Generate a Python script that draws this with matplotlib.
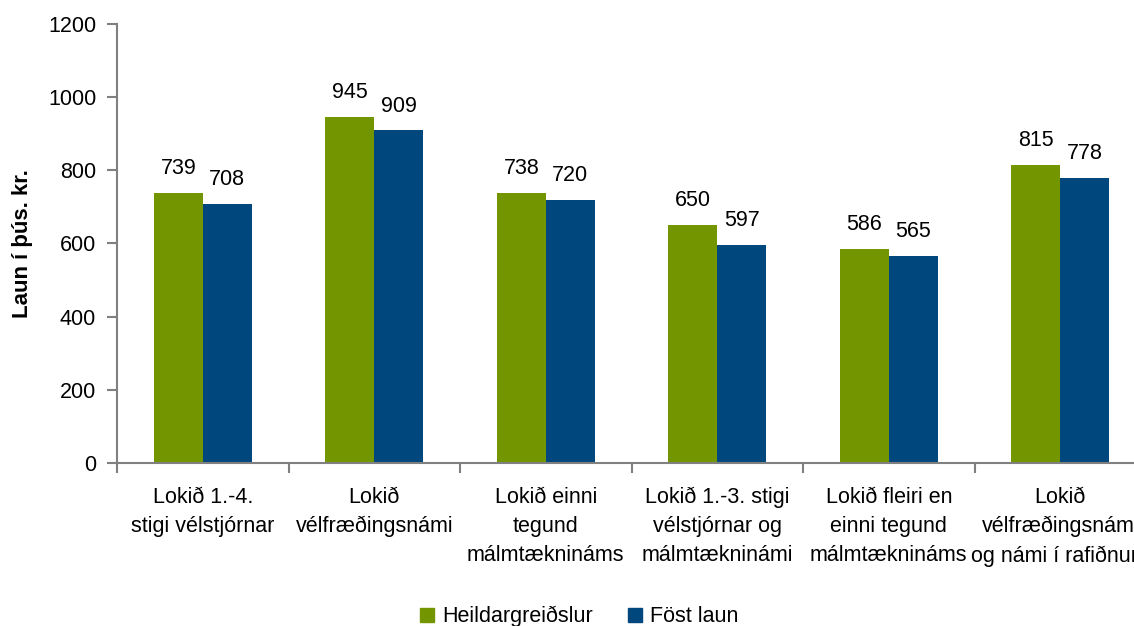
import numpy as np
import matplotlib.pyplot as plt
from matplotlib.patches import Patch

plt.rcParams['font.family'] = ['Liberation Sans', 'DejaVu Sans']

categories = [
    'Lokið 1.-4.\nstigi vélstjórnar',
    'Lokið\nvélfræðingsnámi',
    'Lokið einni\ntegund\nmálmtæknináms',
    'Lokið 1.-3. stigi\nvélstjórnar og\nmálmtækninámi',
    'Lokið fleiri en\neinni tegund\nmálmtæknináms',
    'Lokið\nvélfræðingsnámi\nog námi í rafiðnum',
]
heildar = [739, 945, 738, 650, 586, 815]
fost = [708, 909, 720, 597, 565, 778]
series_names = ['Heildargreiðslur', 'Föst laun']
green = '#739600'
blue = '#00477d'

fig = plt.figure(figsize=(11.34, 6.26), dpi=100)
ax = fig.add_axes([0.1032, 0.2604, 0.9074, 0.7013])

x = np.arange(len(categories))
w = 0.286
b1 = ax.bar(x - w / 2, heildar, w, color=green)
b2 = ax.bar(x + w / 2, fost, w, color=blue)

for bars, vals in ((b1, heildar), (b2, fost)):
    for r, v in zip(bars, vals):
        ax.annotate(str(v), (r.get_x() + r.get_width() / 2, v),
                    xytext=(0, 10), textcoords='offset points',
                    ha='center', va='bottom', fontsize=15.5)

ax.set_xlim(-0.5, len(categories) - 0.5)
ax.set_ylim(0, 1200)
ax.set_yticks(range(0, 1201, 200))
ax.set_xticks(x)
ax.set_xticklabels(categories, fontsize=15.5, linespacing=1.5)
ax.set_xticks(np.arange(-0.5, len(categories)), minor=True)
ax.tick_params(axis='x', which='major', length=0, pad=17)
ax.tick_params(axis='x', which='minor', length=7, color='#808080', width=1.5)
ax.tick_params(axis='y', length=7, color='#808080', width=1.5, labelsize=15.5, pad=8)
ax.set_ylabel('Laun í þús. kr.', fontsize=16, fontweight='bold', labelpad=11)

for s in ('top', 'right'):
    ax.spines[s].set_visible(False)
for s in ('left', 'bottom'):
    ax.spines[s].set_color('#808080')
    ax.spines[s].set_linewidth(1.5)

handles = [Patch(color=green), Patch(color=blue)]
fig.legend(handles, series_names, loc='center', bbox_to_anchor=(0.511, 0.015),
           ncol=2, frameon=False, fontsize=15.5, handlelength=0.65, handleheight=0.65,
           columnspacing=1.6, handletextpad=0.4)

fig.savefig('out.png', dpi=100)
